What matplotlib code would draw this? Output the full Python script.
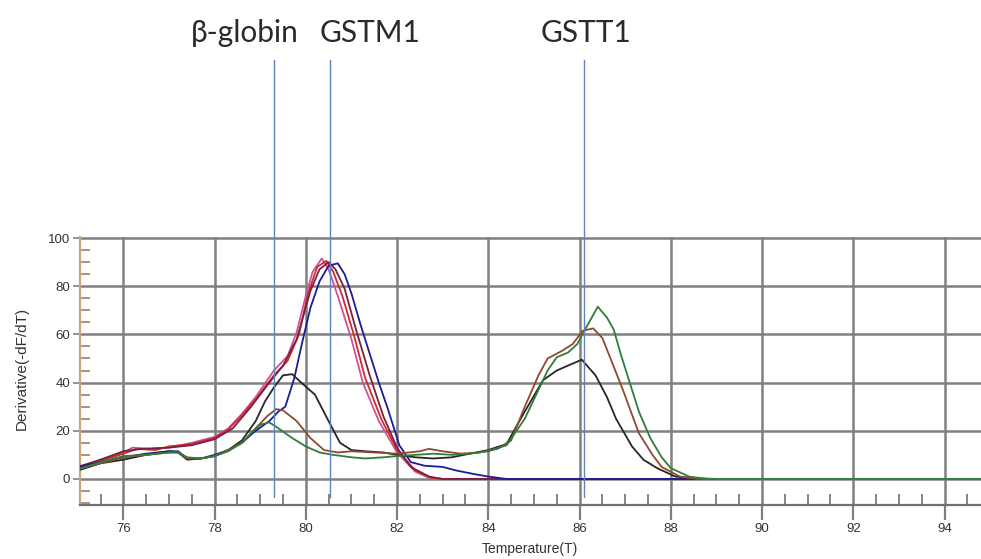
import matplotlib
matplotlib.use("Agg")
import matplotlib.pyplot as plt
from matplotlib.ticker import MultipleLocator

# ---------------- data ----------------
pink_t = [75.0, 75.5, 76.0, 76.2, 76.6, 77.0, 77.5, 78.0, 78.3, 78.6, 78.9, 79.3, 79.6, 79.8, 80.0,
          80.15, 80.35, 80.5, 80.7, 81.0, 81.25, 81.6, 82.0, 82.4, 82.7, 83.0, 89.0]
pink_v = [4.5, 8, 11, 13, 12.5, 13, 15, 17.5, 21, 27, 34, 45, 51, 61, 76,
          86, 91.5, 87, 76, 58, 40, 24, 11, 3, 0.5, 0, 0]

red_t = [75.0, 75.5, 76.0, 76.3, 76.7, 77.0, 77.5, 78.0, 78.3, 78.6, 78.9, 79.3, 79.6, 79.85, 80.05,
         80.25, 80.45, 80.6, 80.8, 81.05, 81.3, 81.65, 82.0, 82.4, 82.75, 83.0, 89.0]
red_v = [4, 7.5, 10.5, 12.5, 12, 13.5, 14.5, 17, 20.5, 26.5, 33, 43, 49, 60, 77,
         88, 90.5, 86, 76, 60, 42, 25, 12, 3.5, 0.5, 0, 0]

maroon_t = [75.0, 75.5, 76.0, 76.4, 77.0, 77.5, 78.0, 78.4, 78.8, 79.2, 79.5, 79.8, 80.1, 80.3,
            80.5, 80.65, 80.85, 81.1, 81.4, 81.7, 82.0, 82.3, 82.7, 83.0, 89.0]
maroon_v = [5, 8, 11.5, 12.5, 13, 14, 16.5, 21, 30, 40, 47, 58, 78, 87,
            90, 87, 79, 62, 43, 26, 13, 5, 1, 0, 0]

navy_t = [75.0, 75.5, 76.0, 76.5, 77.0, 77.2, 77.4, 77.7, 78.0, 78.3, 78.6, 78.9, 79.2, 79.4, 79.55,
          79.75, 79.9, 80.1, 80.3, 80.5, 80.7, 80.85, 81.0, 81.2, 81.4, 81.6, 81.8, 82.05, 82.3,
          82.6, 83.0, 83.3, 83.7, 84.0, 84.4, 89.0]
navy_v = [5, 7, 9, 10.5, 11.5, 11.5, 8.5, 8.5, 10, 12, 15, 20, 24, 28, 30,
          42, 55, 71, 82, 88.5, 89.5, 85, 77, 64, 52, 40, 29, 14, 7,
          5.5, 5, 3.5, 2, 1, 0, 0]

black_t = [75.0, 75.5, 76.0, 76.5, 77.0, 77.2, 77.4, 77.7, 78.0, 78.3, 78.6, 78.9, 79.1, 79.3, 79.5,
           79.7, 79.9, 80.2, 80.5, 80.75, 81.0, 81.3, 81.7, 82.0, 82.4, 82.8, 83.2, 83.6, 84.0,
           84.4, 84.8, 85.2, 85.5, 85.8, 86.05, 86.35, 86.6, 86.8, 87.15, 87.4, 87.7, 88.1,
           88.5, 89.0]
black_v = [3.5, 6.5, 8, 10, 11.5, 11, 8, 8.5, 9.5, 12, 16, 24, 32, 38, 43,
           43.5, 40, 35, 24, 15, 12, 11.5, 11, 10, 9, 8.5, 9, 10.5, 12,
           14.5, 28, 41, 45, 47.5, 49.5, 43, 34, 25, 13.5, 8, 4.5, 1,
           0.3, 0]

brown_t = [75.0, 75.5, 76.0, 76.5, 77.0, 77.2, 77.4, 77.7, 78.0, 78.3, 78.6, 78.9, 79.15, 79.35,
           79.5, 79.8, 80.1, 80.4, 80.7, 81.0, 81.5, 82.0, 82.5, 82.7, 83.0, 83.4, 83.8, 84.2,
           84.5, 84.8, 85.1, 85.3, 85.6, 85.85, 86.07, 86.3, 86.5, 86.7, 86.95, 87.3, 87.6,
           87.8, 88.2, 88.6, 89.0]
brown_v = [4, 6.5, 9, 10, 11, 11, 8.5, 8.5, 9.5, 12, 15, 21, 26, 29,
           28.5, 24, 17, 12, 11, 11.5, 11, 10.5, 11.5, 12.5, 11.5, 10.5, 11, 12.5,
           16, 30, 43, 50, 53, 56, 61.5, 62.5, 58.5, 49, 37, 19, 10,
           5, 1, 0, 0]

green_t = [75.0, 75.5, 76.0, 76.5, 77.0, 77.2, 77.4, 77.7, 78.0, 78.3, 78.6, 78.85, 79.0, 79.2,
           79.4, 79.7, 80.0, 80.3, 80.6, 81.0, 81.3, 81.7, 82.0, 82.4, 82.8, 83.2, 83.6, 84.0,
           84.4, 84.8, 85.1, 85.3, 85.5, 85.75, 85.95, 86.15, 86.4, 86.6, 86.75, 86.9, 87.1,
           87.3, 87.55, 87.8, 88.0, 88.4, 88.8, 95.0]
green_v = [4, 7, 9.5, 10, 11, 11, 9, 8.5, 9.5, 11.5, 15, 20, 22.5, 23.5,
           21, 17, 13.5, 11, 10, 9, 8.5, 9, 9.5, 10, 10.5, 10, 10.5, 11.5,
           14, 25, 37, 45, 50.5, 52.5, 56, 63, 71.5, 67, 62, 52, 40,
           28, 17, 9, 4.5, 1, 0, 0]

series = [
    (pink_t, pink_v, "#d2509a"),
    (red_t, red_v, "#d02a2a"),
    (maroon_t, maroon_v, "#7a2040"),
    (navy_t, navy_v, "#1c1c96"),
    (black_t, black_v, "#262626"),
    (brown_t, brown_v, "#8e4a2e"),
    (green_t, green_v, "#2f7d3a"),
]

marker_temps = [79.3, 80.52, 86.1]
marker_labels = ["β-globin", "GSTM1", "GSTT1"]

x_ticks = [76, 78, 80, 82, 84, 86, 88, 90, 92, 94]
y_ticks = [0, 20, 40, 60, 80, 100]

# ---------------- figure ----------------
W, H = 981, 559
fig = plt.figure(figsize=(W / 100, H / 100), dpi=100)
fig.patch.set_facecolor("white")

ax_left = 80 / W
ax_bottom = 1 - 505 / H
ax_top = 1 - 236.8 / H
ax = fig.add_axes([ax_left, ax_bottom, 1 - ax_left, ax_top - ax_bottom])
ax.set_xlim(75.05, 94.8)
ax.set_ylim(-10.8, 100.5)

ax.set_xticks(x_ticks)
ax.set_yticks(y_ticks)
ax.xaxis.set_minor_locator(MultipleLocator(0.5))
ax.yaxis.set_minor_locator(MultipleLocator(5))

ax.grid(which="major", color="#808080", linewidth=1.8, zorder=0)
ax.set_axisbelow(True)

for s in ["top", "right"]:
    ax.spines[s].set_visible(False)
ax.spines["left"].set_color("#c9a57c")
ax.spines["left"].set_linewidth(1.6)
ax.spines["bottom"].set_color("#707070")
ax.spines["bottom"].set_linewidth(1.6)

tick_font = dict(family=["Liberation Sans", "DejaVu Sans"], size=9.5)
ax.tick_params(axis="x", which="major", direction="out", length=11, width=1.6,
               color="#808080", labelcolor="#333333", pad=2)
ax.tick_params(axis="x", which="minor", direction="in", length=8, width=1.2,
               color="#707070")
ax.tick_params(axis="y", which="major", direction="out", length=5, width=1.2,
               color="#808080", labelcolor="#333333", pad=2)
ax.tick_params(axis="y", which="minor", direction="in", length=7, width=1.2,
               color="#a08060")
for lab in ax.get_xticklabels() + ax.get_yticklabels():
    lab.set_fontfamily(tick_font["family"])
    lab.set_fontsize(tick_font["size"])

for t, v, c in series:
    ax.plot(t, v, color=c, linewidth=1.3, zorder=3)

for mt in marker_temps:
    ax.axvline(mt, ymin=0.03, ymax=1.659, color="#5a86bb", linewidth=1.0,
               clip_on=False, zorder=4)

label_x_px = [245, 370, 586]
for lx, lab in zip(label_x_px, marker_labels):
    fig.text(lx / W, 1 - 33 / H, lab, ha="center", va="center",
             fontsize=21.5, family=["Lato", "DejaVu Sans"], color="#2a2a2a")

fig.text(22 / W, 1 - 368 / H, "Derivative(-dF/dT)", rotation=90, ha="center",
         va="center", fontsize=11, family=["Liberation Sans", "DejaVu Sans"],
         color="#333333")
fig.text(530 / W, 1 - 549 / H, "Temperature(T)", ha="center", va="center",
         fontsize=10, family=["Liberation Sans", "DejaVu Sans"], color="#333333")

fig.savefig("out.png", dpi=100, facecolor="white")
